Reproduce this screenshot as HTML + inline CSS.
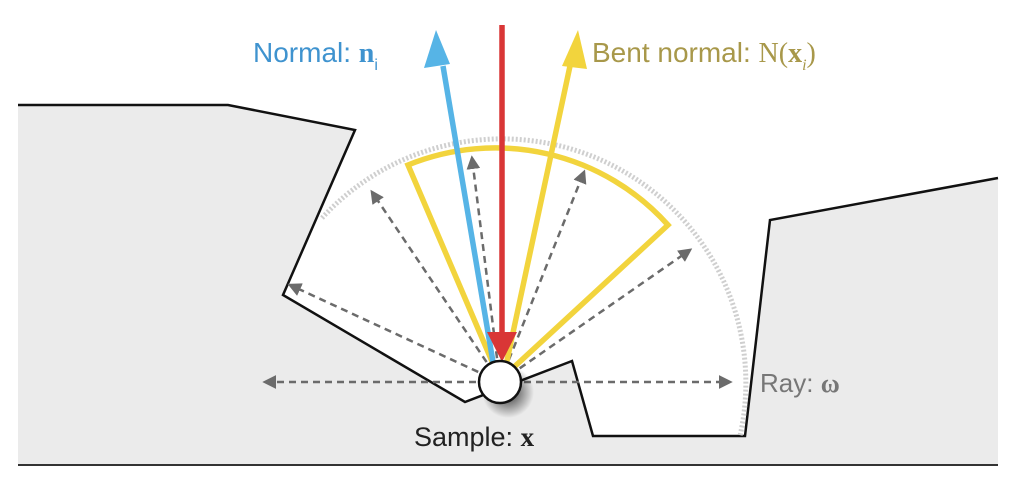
<!DOCTYPE html>
<html><head><meta charset="utf-8"><style>
html,body{margin:0;padding:0;background:#fff;}
svg{display:block;}
text{font-family:"Liberation Sans",sans-serif;}
</style></head><body>
<svg width="1020" height="482" viewBox="0 0 1020 482">
<defs>
<marker id="ag" viewBox="0 0 10 10" refX="8" refY="5" markerWidth="5.5" markerHeight="5.5" orient="auto"><path d="M0,0L10,5L0,10z" fill="#6b6b6b"/></marker>
<radialGradient id="sh" cx="0.5" cy="0.5" r="0.5"><stop offset="0" stop-color="#000" stop-opacity="0.8"/><stop offset="1" stop-color="#000" stop-opacity="0"/></radialGradient>
</defs>
<polygon points="18,105 228,105 355,130 283,295 465,402 572,361 593,436 745,436 770,220 998,178 998,465 18,465" fill="#ebebeb"/>
<polyline points="18,105 228,105 355,130 283,295 465,402 572,361 593,436 745,436 770,220 998,178" fill="none" stroke="#111" stroke-width="2.5"/>
<line x1="18" y1="465" x2="998" y2="465" stroke="#333" stroke-width="2"/>
<path d="M 322,218 A 244 244 0 0 1 740,436" fill="none" stroke="#cfcfcf" stroke-width="5" stroke-dasharray="2,2"/>
<g stroke="#6b6b6b" stroke-width="2.5" stroke-dasharray="7,5" marker-end="url(#ag)">
<line x1="500" y1="382" x2="265" y2="382"/>
<line x1="500" y1="382" x2="290" y2="285"/>
<line x1="500" y1="382" x2="372" y2="192"/>
<line x1="500" y1="382" x2="472" y2="158"/>
<line x1="500" y1="382" x2="584" y2="172"/>
<line x1="500" y1="382" x2="690" y2="250"/>
<line x1="500" y1="382" x2="730" y2="382"/>
</g>
<path d="M 500,380 L 408,165 A 232 232 0 0 1 668,225 Z" fill="none" stroke="#f2d43d" stroke-width="5.5" stroke-linejoin="miter"/>
<line x1="505" y1="370" x2="570" y2="66" stroke="#f2d43d" stroke-width="5.5"/>
<polygon points="578,30 562,66 587,69" fill="#f2d43d"/>
<line x1="494" y1="368" x2="443" y2="66" stroke="#56b4e6" stroke-width="5.5"/>
<polygon points="436,30 424,68 450,64" fill="#56b4e6"/>
<line x1="502" y1="25" x2="502" y2="336" stroke="#d93636" stroke-width="5.5"/>
<polygon points="502,362 487,332 517,332" fill="#d93636"/>
<circle cx="508" cy="392" r="26" fill="url(#sh)"/>
<circle cx="500" cy="382" r="21" fill="#fff" stroke="#111" stroke-width="2.5"/>
<text x="253" y="62" font-size="28" fill="#3f93cf">Normal: <tspan font-family="Liberation Serif,serif" font-weight="bold">n</tspan><tspan font-size="16" dy="8">i</tspan></text>
<text x="592" y="62" font-size="28" fill="#a8984a">Bent normal: <tspan font-family="Liberation Serif,serif">N(</tspan><tspan font-family="Liberation Serif,serif" font-weight="bold">x</tspan><tspan font-family="Liberation Serif,serif" font-size="16" font-style="italic" dy="8">i</tspan><tspan font-family="Liberation Serif,serif" dy="-8">)</tspan></text>
<text x="760" y="392" font-size="26" fill="#777">Ray: <tspan font-family="Liberation Serif,serif" font-weight="bold">ω</tspan></text>
<text x="414" y="446" font-size="27" fill="#222">Sample: <tspan font-family="Liberation Serif,serif" font-weight="bold">x</tspan></text>
</svg>
</body></html>
